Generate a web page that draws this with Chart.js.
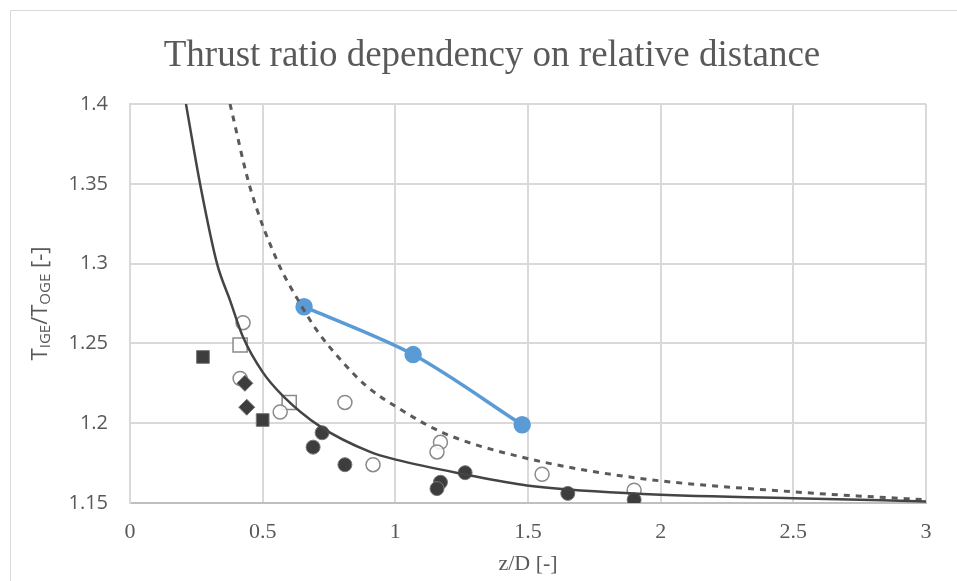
<!DOCTYPE html>
<html>
<head>
<meta charset="utf-8">
<script src="https://cdn.jsdelivr.net/npm/chart.js@4.4.1/dist/chart.umd.min.js"></script>
<style>
  html, body { margin: 0; padding: 0; background: #fff; }
  #wrap { width: 957px; height: 581px; }
</style>
</head>
<body>
<div id="wrap"><canvas id="thrust" width="957" height="581"></canvas></div>
<script>
// measured points (blue series)
var measuredX = [0.656, 1.067, 1.478];
var measuredY = [1.273, 1.243, 1.199];

// reference curves from the scanned plot
var solidX = [0.211, 0.237, 0.264, 0.328, 0.377, 0.426, 0.5, 0.577, 0.716, 0.905, 1.006, 1.26, 1.496, 1.896, 2.5, 3.0];
var solidY = [1.400, 1.375, 1.350, 1.300, 1.277, 1.254, 1.232, 1.217, 1.198, 1.182, 1.177, 1.168, 1.161, 1.156, 1.153, 1.151];
var dashedX = [0.377, 0.452, 0.554, 0.641, 0.705, 0.803, 0.893, 1.006, 1.18, 1.47, 1.896, 2.5, 3.0];
var dashedY = [1.400, 1.348, 1.302, 1.275, 1.258, 1.238, 1.223, 1.210, 1.194, 1.179, 1.166, 1.157, 1.152];

// scanned markers
var filledSquareX = [0.275, 0.50];
var filledSquareY = [1.2415, 1.202];
var filledDiamondX = [0.433, 0.44];
var filledDiamondY = [1.225, 1.21];
var filledCircleX = [0.69, 0.724, 0.81, 1.263, 1.17, 1.157, 1.65, 1.9];
var filledCircleY = [1.185, 1.194, 1.174, 1.169, 1.163, 1.159, 1.156, 1.152];
var openCircleX = [0.426, 0.415, 0.566, 0.81, 0.916, 1.17, 1.157, 1.553, 1.9];
var openCircleY = [1.263, 1.228, 1.207, 1.213, 1.174, 1.188, 1.182, 1.168, 1.158];
var openSquareX = [0.415, 0.60];
var openSquareY = [1.249, 1.213];

var xTickLabels = ['0', '0.5', '1', '1.5', '2', '2.5', '3'];
var yTickLabels = ['1.15', '1.2', '1.25', '1.3', '1.35', '1.4'];

function pts(xs, ys) {
    return xs.map(function (x, i) { return {x: x, y: ys[i]}; });
}

var frame = {
    id: 'frame',
    beforeDraw: function (chart) {
        var c = chart.ctx;
        c.save();
        c.strokeStyle = '#d9d9d9';
        c.lineWidth = 1;
        c.beginPath();
        c.moveTo(10.5, 581);
        c.lineTo(10.5, 10.5);
        c.lineTo(957, 10.5);
        c.stroke();
        c.restore();
    },
    afterDraw: function (chart) {
        var c = chart.ctx, a = chart.chartArea;
        c.save();
        c.fillStyle = '#595959';
        c.textBaseline = 'alphabetic';
        c.textAlign = 'center';
        c.font = '37px "Liberation Serif"';
        c.fillText('Thrust ratio dependency on relative distance', 492, 66);
        c.font = '22px "Liberation Serif"';
        c.fillText('z/D [-]', (a.left + a.right) / 2, 570);

        // y title with subscripts
        var parts = [
            ['T', false], ['IGE', true], ['/', false], ['T', false], ['OGE', true], [' [-]', false]
        ];
        var big = '22px "Open Sans"', small = '15px "Open Sans"';
        var total = 0;
        parts.forEach(function (p) {
            c.font = p[1] ? small : big;
            total += c.measureText(p[0]).width;
        });
        c.translate(47, (a.top + a.bottom) / 2);
        c.rotate(-Math.PI / 2);
        c.textAlign = 'left';
        var x = -total / 2;
        parts.forEach(function (p) {
            c.font = p[1] ? small : big;
            c.fillText(p[0], x, p[1] ? 3 : 0);
            x += c.measureText(p[0]).width;
        });
        c.restore();
    }
};

var ink = '#3d3d3d';

new Chart(document.getElementById('thrust'), {
    type: 'scatter',
    data: {
        datasets: [
            {
                data: pts(solidX, solidY),
                showLine: true,
                borderColor: '#444444',
                borderWidth: 2.5,
                pointRadius: 0,
                cubicInterpolationMode: 'monotone'
            },
            {
                data: pts(dashedX, dashedY),
                showLine: true,
                borderColor: '#5a5a5a',
                borderWidth: 3,
                borderDash: [6, 6],
                pointRadius: 0,
                cubicInterpolationMode: 'monotone'
            },
            {
                data: pts(filledSquareX, filledSquareY),
                pointStyle: 'rect',
                pointRadius: 9,
                backgroundColor: ink,
                borderColor: '#777',
                borderWidth: 1
            },
            {
                data: pts(filledDiamondX, filledDiamondY),
                pointStyle: 'rectRot',
                pointRadius: 8,
                backgroundColor: ink,
                borderColor: '#777',
                borderWidth: 1
            },
            {
                data: pts(filledCircleX, filledCircleY),
                pointStyle: 'circle',
                pointRadius: 7,
                backgroundColor: ink,
                borderColor: '#777',
                borderWidth: 1
            },
            {
                data: pts(openCircleX, openCircleY),
                pointStyle: 'circle',
                pointRadius: 7,
                backgroundColor: 'rgba(255,255,255,0.85)',
                borderColor: '#8a8a8a',
                borderWidth: 1.5
            },
            {
                data: pts(openSquareX, openSquareY),
                pointStyle: 'rect',
                pointRadius: 10,
                backgroundColor: 'rgba(255,255,255,0.85)',
                borderColor: '#8a8a8a',
                borderWidth: 1.5
            },
            {
                data: pts(measuredX, measuredY),
                showLine: true,
                borderColor: '#5b9bd5',
                backgroundColor: '#5b9bd5',
                borderWidth: 3.5,
                pointRadius: 7,
                tension: 0.3
            }
        ]
    },
    options: {
        responsive: false,
        animation: false,
        events: [],
        layout: {
            padding: {left: 0, top: 104, right: 31, bottom: 0}
        },
        plugins: {
            legend: {display: false},
            title: {display: false},
            tooltip: {enabled: false}
        },
        scales: {
            x: {
                type: 'linear',
                min: 0,
                max: 3,
                afterFit: function (scale) { scale.height = 78; },
                grid: {color: '#d9d9d9', lineWidth: 2, drawTicks: false},
                border: {color: '#bfbfbf', width: 2},
                ticks: {
                    stepSize: 0.5,
                    padding: 16,
                    color: '#595959',
                    font: {family: 'Liberation Serif', size: 22},
                    callback: function (v) {
                        return xTickLabels[Math.round(v / 0.5)];
                    }
                }
            },
            y: {
                type: 'linear',
                min: 1.15,
                max: 1.4,
                afterFit: function (scale) { scale.width = 130; },
                grid: {color: '#d9d9d9', lineWidth: 2, drawTicks: false},
                border: {color: '#d9d9d9', width: 2},
                ticks: {
                    stepSize: 0.05,
                    padding: 22,
                    color: '#595959',
                    font: {family: 'Open Sans', size: 20},
                    callback: function (v) {
                        return yTickLabels[Math.round((v - 1.15) / 0.05)];
                    }
                }
            }
        }
    },
    plugins: [frame]
});
</script>
</body>
</html>
